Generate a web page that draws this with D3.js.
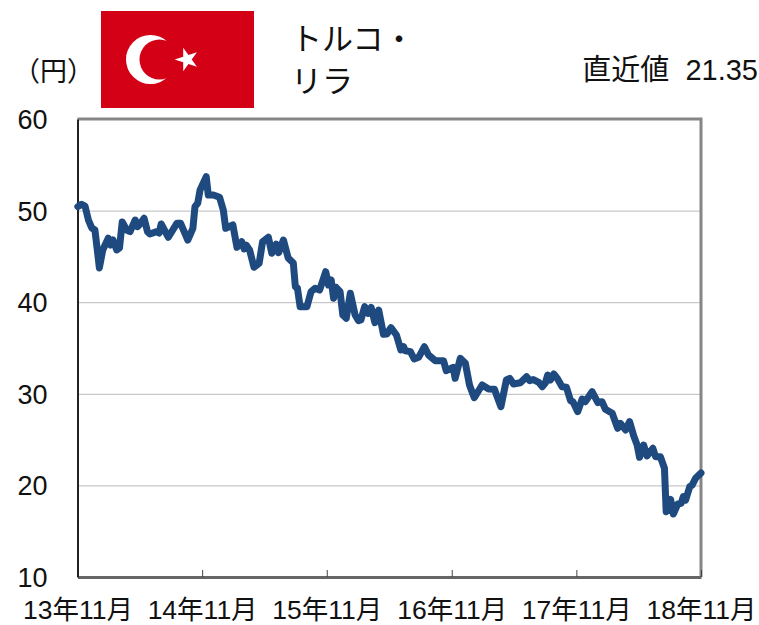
<!DOCTYPE html>
<html><head><meta charset="utf-8">
<script src="https://cdn.jsdelivr.net/npm/d3@7/dist/d3.min.js"></script>
<style>
html,body{margin:0;padding:0;background:#fff}
svg{display:block}
text{font-family:"Liberation Sans","Noto Sans CJK JP",sans-serif;fill:#111}
</style></head><body>
<script>
const days = [1,12,22,32,42,51,58,64,74,90,97,104,115,123,131,144,154,169,176,183,195,205,212,232,239,245,266,291,302,323,338,344,352,359,377,383,398,416,427,434,455,467,481,488,494,504,517,532,542,559,569,582,589,603,617,632,638,644,652,672,684,696,709,727,735,743,750,757,769,777,787,799,813,823,830,841,851,860,871,882,896,906,918,934,947,955,960,975,986,999,1016,1028,1048,1072,1080,1100,1106,1121,1136,1148,1162,1185,1204,1221,1240,1256,1266,1277,1297,1315,1324,1335,1351,1361,1370,1377,1385,1395,1405,1419,1432,1444,1451,1465,1478,1487,1507,1524,1536,1546,1566,1582,1590,1605,1617,1629,1639,1646,1658,1668,1685,1693,1707,1719,1724,1731,1737,1745,1758,1768,1774,1781,1793,1800,1810,1826];
const rates = [50.43,50.69,50.5,48.97,48.1,47.88,45.7,43.74,45.7,46.98,46.24,46.79,45.7,45.92,48.76,47.88,47.7,48.97,48.24,48.54,49.16,47.7,47.45,47.7,47.55,48.54,47.09,48.61,48.61,46.79,48.07,50.43,50.8,52.25,53.7,51.7,51.7,51.45,50.07,48.07,48.43,45.99,46.6,45.81,46.24,45.7,43.81,44.25,46.6,47.09,45.34,46.35,45.4,46.79,44.83,44.28,41.69,41.55,39.51,39.51,41.15,41.52,41.33,43.33,41.88,42.42,40.43,41.63,41.15,38.6,38.24,40.97,38.6,37.98,38.06,39.51,38.79,39.44,37.76,39.15,36.5,36.53,37.22,36.42,34.78,35.14,34.7,34.6,33.8,33.98,35.14,34.24,33.61,33.61,32.52,32.89,31.69,33.87,33.33,30.96,29.57,30.96,30.52,30.49,28.59,31.51,31.69,31.07,31.21,31.87,31.43,31.56,31.26,30.77,31.18,32.05,31.51,32.16,31.69,30.77,30.71,29.25,29.14,28.05,29.43,29.14,30.23,29.03,29.14,28.31,27.87,26.23,26.78,26.05,26.96,25.39,24.41,23.07,24.41,23.21,24.05,23.13,23.13,21.87,17.13,17.31,18.48,16.88,17.97,18.05,18.77,18.4,19.86,20.04,20.77,21.35];
const yTicks = [10,20,30,40,50,60];
const xTickDays = [0,365,730,1096,1461,1826];
const xTickLabels = ["13年11月","14年11月","15年11月","16年11月","17年11月","18年11月"];
const title = ["トルコ・","リラ"];
const unit = "（円）";
const latest = "直近値  21.35";

const W=759,H=625, L=77.5,R=701,T=119,B=577;
const svg=d3.select("body").append("svg").attr("width",W).attr("height",H);
const x=d3.scaleLinear().domain([0,1826]).range([L,R]);
const y=d3.scaleLinear().domain([10,60]).range([B,T]);

// gridlines
svg.append("g").selectAll("line").data(yTicks.filter(d=>d>10&&d<60)).join("line")
  .attr("x1",L).attr("x2",R).attr("y1",d=>y(d)+0.5).attr("y2",d=>y(d)+0.5)
  .attr("stroke","#777").attr("stroke-width",1).attr("stroke-dasharray","1 1");

// frame
svg.append("path").attr("d",`M${L},${T}H${R}V${B}`).attr("fill","none").attr("stroke","#868686").attr("stroke-width",3);

// axes
const gx=svg.append("g").attr("transform",`translate(0,${B})`)
  .call(d3.axisBottom(x).tickValues(xTickDays).tickSize(0).tickFormat((d,i)=>xTickLabels[i]));
gx.select(".domain").attr("stroke","#666").attr("stroke-width",3);
gx.selectAll("text").attr("font-size",26.5).attr("dy",0).attr("y",42).attr("text-anchor","middle");
gx.selectAll(".tick line").attr("y1",-7).attr("y2",0).attr("stroke","#444").attr("stroke-width",1);
gx.selectAll(".tick").filter((d,i)=>i===0).select("line").remove();

const gy=svg.append("g").attr("transform",`translate(${L},0)`)
  .call(d3.axisLeft(y).tickValues(yTicks).tickSize(0).tickPadding(30));
gy.select(".domain").attr("stroke","#222").attr("stroke-width",2);
gy.selectAll("text").attr("font-size",27).attr("text-anchor","middle").attr("dy","0.35em").attr("x",-45);

// line
svg.append("path").datum(days.map((d,i)=>[d,rates[i]]))
  .attr("fill","none").attr("stroke","#1f4a7f").attr("stroke-width",7)
  .attr("stroke-linejoin","round").attr("stroke-linecap","round")
  .attr("d",d3.line().x(d=>x(d[0])).y(d=>y(d[1])));

// flag
const flag=svg.append("g");
flag.append("rect").attr("x",101).attr("y",11).attr("width",153).attr("height",97).attr("fill","#d40016");
flag.append("circle").attr("cx",150.5).attr("cy",59.5).attr("r",24.5).attr("fill","#fff");
flag.append("circle").attr("cx",159.5).attr("cy",59.5).attr("r",20).attr("fill","#d40016");
flag.append("path").attr("d",d3.symbol(d3.symbolStar,170)()).attr("transform","translate(187,59.5) rotate(-90)").attr("fill","#fff");

// text
svg.append("text").attr("x",13).attr("y",81).attr("font-size",27).text(unit);
svg.selectAll(".ttl").data(title).join("text").attr("class","ttl")
  .attr("x",291).attr("y",(d,i)=>[50,92][i]).attr("font-size",31).text(d=>d);
svg.append("text").attr("x",758).attr("y",80).attr("text-anchor","end").attr("font-size",29).style("white-space","pre").text(latest);
</script>
</body></html>
